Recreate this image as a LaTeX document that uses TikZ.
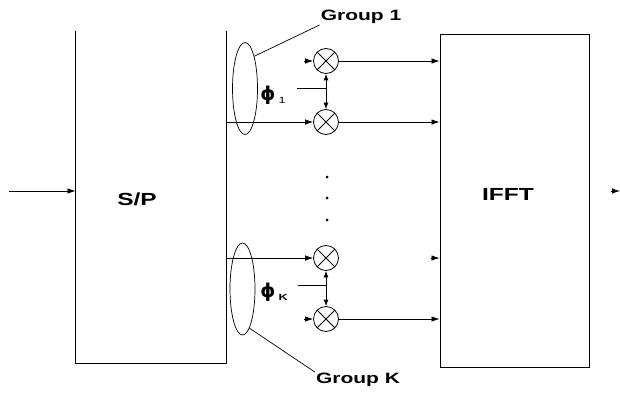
\documentclass[tikz,border=0pt]{standalone}
\usepackage{fontspec}
\setmainfont{Liberation Sans}[FakeStretch=1.4]
\newfontfamily\phifont{DejaVu Sans}
\usepackage{tikz}
\usetikzlibrary{arrows.meta,positioning,shapes.geometric,calc}

\begin{document}
\begin{tikzpicture}[x=1pt,y=-1pt,
    blockbox/.style={
      minimum width=150pt,
      minimum height=332pt,
      inner sep=0pt,
      line width=0.9pt
    },
    blocktext/.style={
      font=\fontsize{17.5}{20}\selectfont\bfseries,
      inner sep=0pt
    },
    mult/.style={
      circle,
      draw,
      line width=0.8pt,
      minimum size=25pt,
      inner sep=0pt,
      path picture={
        \draw[line width=0.8pt]
          (path picture bounding box.north west) -- (path picture bounding box.south east)
          (path picture bounding box.south west) -- (path picture bounding box.north east);
      }
    },
    grouping/.style={
      ellipse,
      draw,
      line width=0.7pt,
      minimum width=25pt,
      minimum height=92pt,
      inner sep=0pt
    },
    grouptext/.style={
      font=\fontsize{15}{18}\selectfont\bfseries,
      inner sep=1pt
    },
    phase/.style={
      font=\fontsize{19}{21}\selectfont,
      inner sep=0pt
    },
    arrow/.style={
      -{Latex[length=8pt,width=5.5pt]},
      line width=0.8pt
    },
    biarrow/.style={
      {Latex[length=6.5pt,width=5pt]}-{Latex[length=6.5pt,width=5pt]},
      line width=0.8pt
    },
    dot/.style={
      circle,
      fill,
      inner sep=0pt,
      minimum size=3pt
    }]

    \useasboundingbox (0,0) rectangle (620,393);

    % Serial to parallel (open top)
    \node[blockbox] (sp) at (151,197) {};
    \draw[line width=0.9pt] (sp.north west) -- (sp.south west) -- (sp.south east) -- (sp.north east);
    \node[blocktext] (splabel) at (137,199) {S/P};

    % IFFT block
    \node[blockbox,draw,minimum width=149pt,minimum height=333pt] (ifft) at (514.5,200.5) {};
    \node[blocktext] (ifftlabel) at (508,194) {IFFT};

    % Input and output
    \coordinate (in) at (9,191);
    \coordinate (out) at (611,191);
    \coordinate (outtip) at (620,191);
    \draw[arrow] (in) -- (in -| sp.west);
    \draw[arrow] (out) -- (outtip);

    % Multipliers
    \node[mult] (m1a) at (326,61) {};
    \node[mult] (m1b) at (326,122) {};
    \node[mult] (mKa) at (326,258) {};
    \node[mult] (mKb) at (326,319) {};

    \foreach \y [count=\i] in {177,198,220}
      \node[dot] (d\i) at (327,\y) {};

    % Groups
    \node[grouping] (g1) at (245,88.5) {};
    \node[grouping] (gK) at (242.5,289) {};
    \node[grouptext] (grp1) at (361,17) {Group 1};
    \node[grouptext] (grpK) at (358,380) {Group K};
    \draw[line width=0.7pt] (g1.74) -- (grp1.south west);
    \draw[line width=0.7pt] (gK.-80) -- (grpK.north west);

    % Feeds into the multipliers
    \draw[arrow] (sp.east |- m1b) -- (m1b.west);
    \draw[arrow] (sp.east |- mKa) -- (mKa.west);
    \draw[arrow] ([xshift=-9pt]m1a.west) -- (m1a.west);
    \draw[arrow] ([xshift=-9pt]mKb.west) -- (mKb.west);

    % Multipliers to IFFT
    \foreach \m in {m1a,m1b,mKb}
      \draw[arrow] (\m.east) -- (\m.east -| ifft.west);
    \draw[arrow] ([xshift=-9pt]ifft.west |- mKa) -- (ifft.west |- mKa);

    % Phase rotations
    \coordinate (p1) at (297,88);
    \coordinate (pK) at (298,285);
    \draw[biarrow] (m1a) -- (m1b);
    \draw[biarrow] (mKa) -- (mKb);
    \draw[line width=0.8pt] (p1) -- (p1 -| m1a);
    \draw[line width=0.8pt] (pK) -- (pK -| mKa);
    \node[phase] (phi1) at (273,95) {{\phifont\bfseries ϕ}\,\raisebox{-3pt}{\fontsize{9}{10}\selectfont 1}};
    \node[phase] (phiK) at (274,292) {{\phifont\bfseries ϕ}\,\raisebox{-3pt}{\fontsize{9}{10}\selectfont\bfseries K}};
\end{tikzpicture}
\end{document}
